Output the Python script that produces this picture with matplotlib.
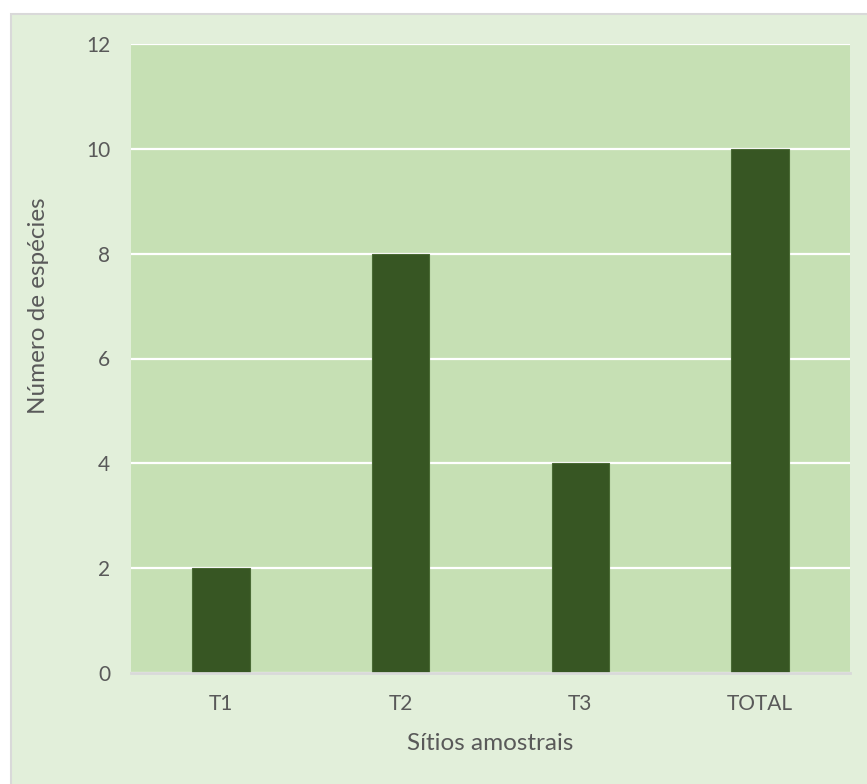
import matplotlib.pyplot as plt
from matplotlib.patches import Rectangle

# species count per sampling site
sitios = ['T1', 'T2', 'T3', 'TOTAL']
especies = [2, 8, 4, 10]
yticks = [0, 2, 4, 6, 8, 10, 12]

plt.rcParams['font.family'] = ['Lato', 'DejaVu Sans']

W, H = 867, 784
fig = plt.figure(figsize=(W / 100, H / 100), dpi=100)
fig.patch.set_facecolor('white')

# chart area box, kept behind the axes
fig.patches.append(Rectangle((11 / W, -0.01), 1 - 11 / W + 0.01, 1 - 14 / H + 0.01,
                             transform=fig.transFigure, facecolor='#E2EFDA',
                             edgecolor='#D9D9D9', linewidth=1.5, zorder=-5))

ax = fig.add_axes([131 / W, 1 - 673 / H, (850 - 131) / W, (673 - 44) / H])
ax.set_facecolor('#C6E0B4')

x = range(len(sitios))
ax.bar(x, especies, width=0.32, color='#375623', edgecolor='#4a6b35', linewidth=0.8, zorder=3)

ax.set_xlim(-0.5, len(sitios) - 0.5)
ax.set_ylim(0, 12)
ax.set_yticks(yticks)
ax.set_xticks(list(x))
ax.set_xticklabels(sitios)
ax.yaxis.grid(True, color='white', linewidth=1.6, zorder=1)
ax.set_axisbelow(True)

for s in ['top', 'right', 'left']:
    ax.spines[s].set_visible(False)
ax.spines['bottom'].set_color('#D9D9D9')
ax.spines['bottom'].set_linewidth(2)
ax.spines['bottom'].set_zorder(4)

ax.tick_params(axis='both', length=0, labelsize=15, colors='#595959', pad=15)

ax.set_xlabel('Sítios amostrais', fontsize=17.5, color='#595959')
ax.set_ylabel('Número de espécies', fontsize=17.5, color='#595959')
ax.xaxis.set_label_coords(0.5, -(743 - 673) / (673 - 44), transform=ax.transAxes)
ax.yaxis.set_label_coords(-(131 - 39) / (850 - 131), (673 - 306) / (673 - 44), transform=ax.transAxes)
ax.xaxis.label.set_va('center')
ax.yaxis.label.set_va('center')

fig.savefig('out.png', dpi=100, facecolor=fig.get_facecolor())
